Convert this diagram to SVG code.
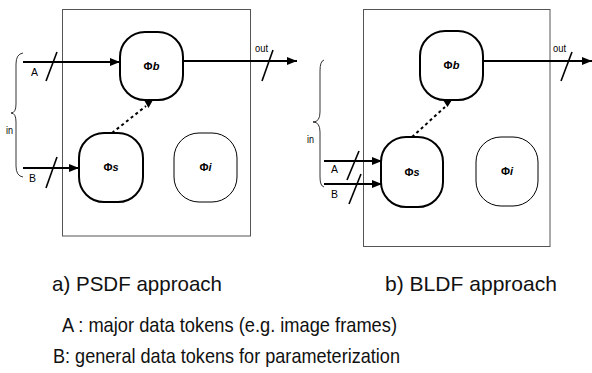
<svg xmlns="http://www.w3.org/2000/svg" width="592" height="373" viewBox="0 0 592 373">
<defs>
<marker id="ah" viewBox="0 0 10 8" refX="10" refY="4" markerWidth="10" markerHeight="8" markerUnits="userSpaceOnUse" orient="auto">
<path d="M0,0 L10,4 L0,8 Z" fill="#000"/>
</marker>
</defs>
<style>
.box{fill:#fff;stroke:#555;stroke-width:1}
.node{fill:#fff;stroke:#000;stroke-width:2}
.thin{fill:#fff;stroke:#000;stroke-width:1}
.arr{stroke:#000;stroke-width:2.2;fill:none}
.sl{stroke:#000;stroke-width:1.6}
.dot{stroke:#000;stroke-width:2;stroke-dasharray:3,3;fill:none}
.br{stroke:#000;stroke-width:0.8;fill:none}
.lb{font-family:"Liberation Sans",Arial,sans-serif;font-size:11px;fill:#000}
.nl{font-family:"Liberation Sans",Arial,sans-serif;font-size:11px;font-weight:bold;fill:#000}
.cap{font-family:"Liberation Sans",Arial,sans-serif;font-size:21px;fill:#111}
</style>
<rect class="box" x="62.5" y="9.5" width="188" height="226.5"/>
<rect class="box" x="363.5" y="9.5" width="186.5" height="237"/>
<g id="connectors">
<line class="arr" x1="23" y1="62" x2="120" y2="62" marker-end="url(#ah)"/>
<line class="arr" x1="23" y1="168" x2="79" y2="168" marker-end="url(#ah)"/>
<line class="arr" x1="183" y1="61" x2="297" y2="61" marker-end="url(#ah)"/>
<line class="sl" x1="46" y1="81" x2="57" y2="52"/>
<line class="sl" x1="46" y1="188" x2="57" y2="157"/>
<line class="sl" x1="262" y1="81" x2="273" y2="50"/>
<line class="dot" x1="112" y1="133" x2="146" y2="106"/>
<path d="M144,100 L153,100 L148.5,108 Z" fill="#000"/>
<path class="br" d="M23,53 Q16,54 16,64 L16,104 Q16,113 11,113 Q16,113 16,122 L16,166 Q16,176 23,177"/>
<line class="arr" x1="324" y1="161" x2="382" y2="161" marker-end="url(#ah)"/>
<line class="arr" x1="324" y1="184" x2="382" y2="184" marker-end="url(#ah)"/>
<line class="arr" x1="483" y1="61" x2="592" y2="61" marker-end="url(#ah)"/>
<line class="sl" x1="347" y1="180" x2="359" y2="151"/>
<line class="sl" x1="349" y1="204" x2="361" y2="174"/>
<line class="sl" x1="561" y1="81" x2="572" y2="52"/>
<line class="dot" x1="412" y1="137" x2="445" y2="107"/>
<path d="M443,100 L452,100 L447.5,107 Z" fill="#000"/>
<path class="br" d="M324,60 Q320,61 320,71 L320,112 Q320,122 313,122 Q320,122 320,132 L320,177 Q320,186 324,187"/>
</g>
<g id="left-phib"><rect class="node" x="120" y="32" width="63" height="68" rx="25" ry="25"/><text class="nl" x="151.5" y="70" text-anchor="middle">Φ<tspan font-style="italic">b</tspan></text></g>
<g id="left-phis"><rect class="node" x="79" y="133" width="64" height="69" rx="25" ry="25"/><text class="nl" x="111" y="171" text-anchor="middle">Φ<tspan font-style="italic">s</tspan></text></g>
<g id="left-phii"><rect class="thin" x="174" y="133" width="63" height="69" rx="25" ry="25"/><text class="nl" x="205.5" y="171" text-anchor="middle">Φ<tspan font-style="italic">i</tspan></text></g>
<g id="right-phib"><rect class="node" x="420" y="31" width="63" height="69" rx="25" ry="25"/><text class="nl" x="451.5" y="69" text-anchor="middle">Φ<tspan font-style="italic">b</tspan></text></g>
<g id="right-phis"><rect class="node" x="381" y="137" width="62" height="70" rx="25" ry="25"/><text class="nl" x="412" y="176" text-anchor="middle">Φ<tspan font-style="italic">s</tspan></text></g>
<g id="right-phii"><rect class="thin" x="476" y="137" width="62" height="69" rx="25" ry="25"/><text class="nl" x="507" y="175" text-anchor="middle">Φ<tspan font-style="italic">i</tspan></text></g>
<g id="labels">
<text class="lb" x="31" y="76" textLength="7" lengthAdjust="spacingAndGlyphs">A</text>
<text class="lb" x="29" y="182" textLength="7" lengthAdjust="spacingAndGlyphs">B</text>
<text class="lb" x="6" y="134" textLength="7" lengthAdjust="spacingAndGlyphs">in</text>
<text class="lb" x="255" y="52" textLength="13" lengthAdjust="spacingAndGlyphs">out</text>
<text class="lb" x="331" y="173" textLength="7" lengthAdjust="spacingAndGlyphs">A</text>
<text class="lb" x="331" y="198" textLength="7" lengthAdjust="spacingAndGlyphs">B</text>
<text class="lb" x="307" y="143" textLength="7" lengthAdjust="spacingAndGlyphs">in</text>
<text class="lb" x="553" y="52" textLength="13" lengthAdjust="spacingAndGlyphs">out</text>
<text class="cap" x="52" y="291" textLength="170" lengthAdjust="spacingAndGlyphs">a) PSDF approach</text>
<text class="cap" x="385" y="291" textLength="172" lengthAdjust="spacingAndGlyphs">b) BLDF approach</text>
<text class="cap" x="62" y="332" textLength="335" lengthAdjust="spacingAndGlyphs">A : major data tokens (e.g. image frames)</text>
<text class="cap" x="53" y="363" textLength="347" lengthAdjust="spacingAndGlyphs">B: general data tokens for parameterization</text>
</g>
</svg>
